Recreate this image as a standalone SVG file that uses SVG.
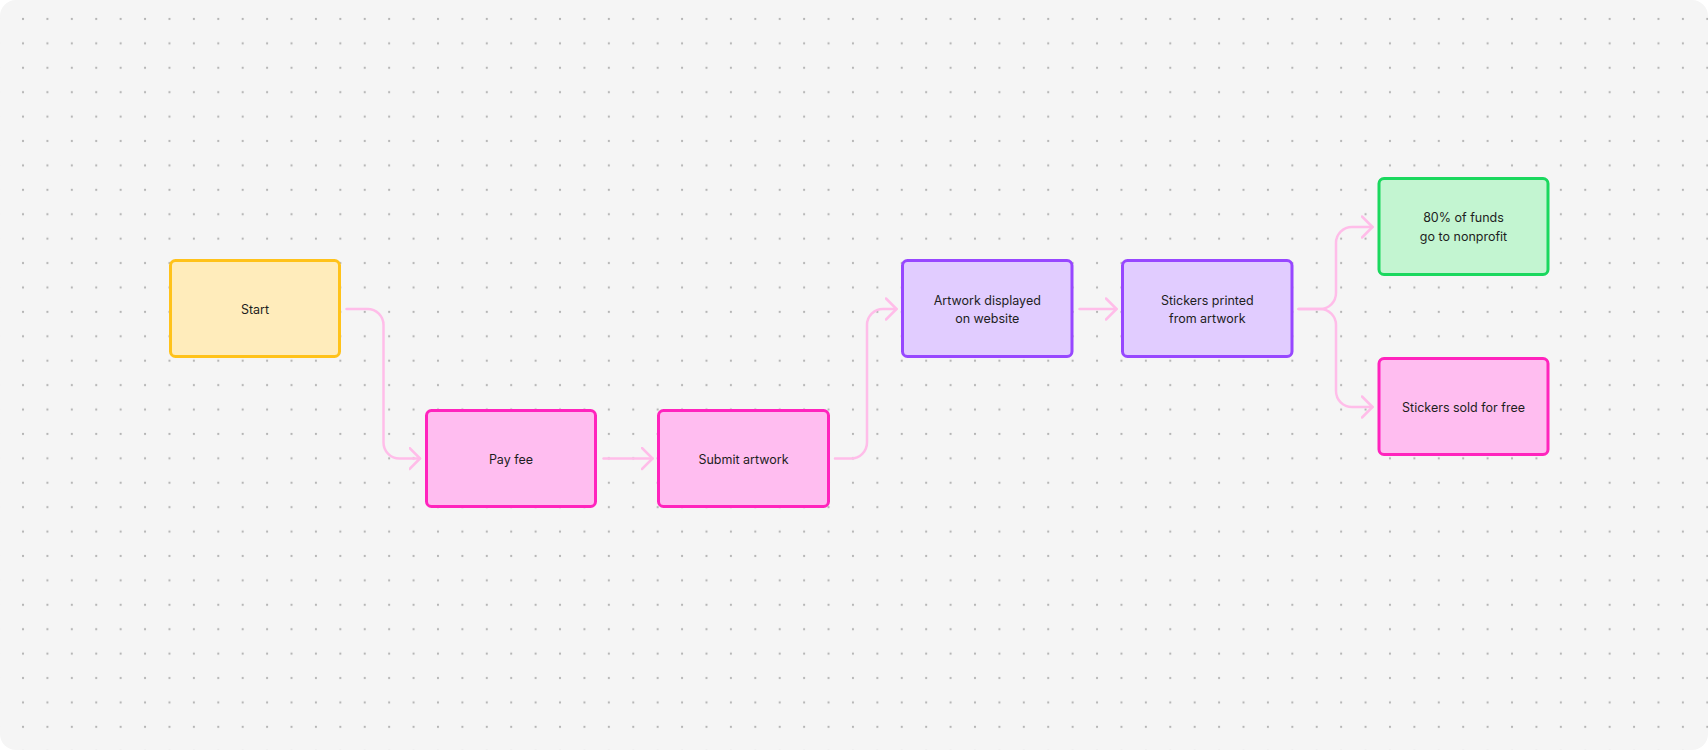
<svg xmlns="http://www.w3.org/2000/svg" width="1708" height="750" viewBox="0 0 1708 750">
  <style>
    .lbl { font-family: Inter, "Noto Sans", "Liberation Sans", sans-serif; font-size: 12.5px; fill: #1e1e1e; text-anchor: middle; dominant-baseline: central; }
    .box { stroke-width: 3; }
    .yellow { fill: #ffecbb; stroke: #ffc21a; }
    .pink { fill: #ffbdf0; stroke: #ff24bd; }
    .purple { fill: #e1ccff; stroke: #9747ff; }
    .green { fill: #c3f5d1; stroke: #1ad85e; }
    .conn { fill: none; stroke: #ffbde9; stroke-width: 2.5; stroke-linecap: round; stroke-linejoin: round; }
  </style>
  <defs>
    <pattern id="dots" x="23" y="19" width="24.41" height="24.41" patternUnits="userSpaceOnUse">
      <circle cx="0" cy="0" r="1.1" fill="#b3b3b3"/>
      <circle cx="24.41" cy="0" r="1.1" fill="#b3b3b3"/>
      <circle cx="0" cy="24.41" r="1.1" fill="#b3b3b3"/>
      <circle cx="24.41" cy="24.41" r="1.1" fill="#b3b3b3"/>
    </pattern>
    <marker id="chev" viewBox="0 0 13 24" refX="11.5" refY="12" markerWidth="13" markerHeight="24" markerUnits="userSpaceOnUse" orient="auto">
      <path d="M1 1.5 L11.5 12 L1 22.5" fill="none" stroke="#ffbde9" stroke-width="2.5" stroke-linecap="round" stroke-linejoin="round"/>
    </marker>
  </defs>
  <rect x="0" y="0" width="1708" height="750" fill="#ffffff"/>
  <rect x="0" y="0" width="1708" height="750" rx="16" fill="#f5f5f5"/>
  <rect x="0" y="0" width="1708" height="750" rx="16" fill="url(#dots)"/>

  <g id="connectors">
    <path class="conn" d="M346.5 309 H367.5 A16 16 0 0 1 383.5 325 V442.5 A16 16 0 0 0 399.5 458.5 H420" marker-end="url(#chev)"/>
    <path class="conn" d="M603.5 458.5 H652.5" marker-end="url(#chev)"/>
    <path class="conn" d="M835 458.5 H851 A16 16 0 0 0 867 442.5 V325 A16 16 0 0 1 883 309 H896.5" marker-end="url(#chev)"/>
    <path class="conn" d="M1079.5 309 H1116.5" marker-end="url(#chev)"/>
    <path class="conn" d="M1298.5 309 H1320 A16 16 0 0 0 1336 293 V243 A16 16 0 0 1 1352 227 H1372.5" marker-end="url(#chev)"/>
    <path class="conn" d="M1298.5 309 H1320 A16 16 0 0 1 1336 325 V391 A16 16 0 0 0 1352 407 H1372.5" marker-end="url(#chev)"/>
  </g>

  <g id="start">
    <rect class="box yellow" x="170.5" y="260.5" width="169" height="96" rx="5"/>
    <text class="lbl" x="255" y="309">Start</text>
  </g>
  <g id="pay-fee">
    <rect class="box pink" x="426.5" y="410.5" width="169" height="96" rx="5"/>
    <text class="lbl" x="511" y="459">Pay fee</text>
  </g>
  <g id="submit-artwork">
    <rect class="box pink" x="658.5" y="410.5" width="170" height="96" rx="5"/>
    <text class="lbl" x="743.5" y="459">Submit artwork</text>
  </g>
  <g id="artwork-displayed">
    <rect class="box purple" x="902.5" y="260.5" width="169.5" height="96" rx="5"/>
    <text class="lbl" x="987.3" y="300">Artwork displayed</text>
    <text class="lbl" x="987.3" y="318.5">on website</text>
  </g>
  <g id="stickers-printed">
    <rect class="box purple" x="1122.5" y="260.5" width="169.5" height="96" rx="5"/>
    <text class="lbl" x="1207.3" y="300">Stickers printed</text>
    <text class="lbl" x="1207.3" y="318.5">from artwork</text>
  </g>
  <g id="funds-nonprofit">
    <rect class="box green" x="1379" y="178.5" width="169" height="96" rx="5"/>
    <text class="lbl" x="1463.5" y="217.8">80% of funds</text>
    <text class="lbl" x="1463.5" y="236.3">go to nonprofit</text>
  </g>
  <g id="stickers-sold">
    <rect class="box pink" x="1379" y="358.5" width="169" height="96" rx="5"/>
    <text class="lbl" x="1463.5" y="407">Stickers sold for free</text>
  </g>
</svg>
